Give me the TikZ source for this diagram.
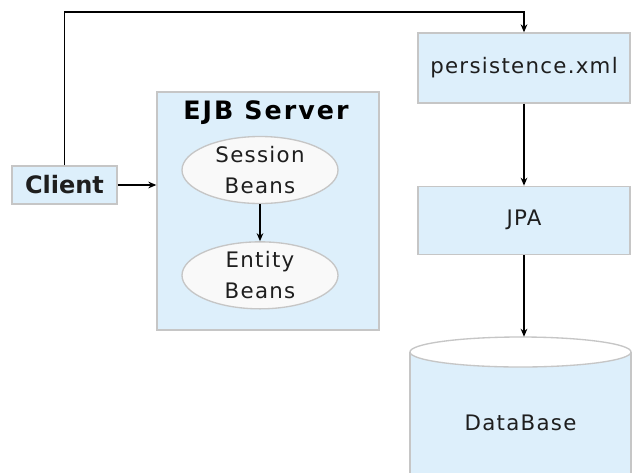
\documentclass[tikz,border=0pt]{standalone}
\usepackage{fontspec}
\setmainfont{DejaVu Sans}
\newfontfamily\pixfont[LetterSpace=6]{DejaVu Sans}
\newfontfamily\pixwide[LetterSpace=8]{DejaVu Sans}
\usetikzlibrary{shapes.geometric,arrows.meta,positioning}
\definecolor{boxblue}{RGB}{221,239,251}
\definecolor{boxline}{RGB}{198,198,198}
\definecolor{beanfill}{RGB}{249,249,249}
\definecolor{txt}{RGB}{30,30,30}

\begin{document}
\begin{tikzpicture}[x=0.75pt,y=-0.75pt,
  box/.style = {draw=boxline, fill=boxblue, line width=1pt, text=txt},
  lbl/.style = {text=txt, font=\pixfont\fontsize{16}{23}\selectfont},
  bean/.style = {ellipse, draw=boxline, fill=beanfill, line width=1pt, inner sep=0pt,
                 minimum width=117pt, minimum height=50.25pt, align=center, lbl},
  arr/.style = {-{Stealth[length=6pt,width=5pt]}, line width=1.1pt}]
  \clip (0,0) rectangle (632,472);
  \fill[white] (0,0) rectangle (632,472);
  % left side
  \node[box, minimum width=78.75pt, minimum height=28.5pt,
        font=\fontsize{18}{22}\selectfont\bfseries] (client) at (64.5,185) {Client};
  \node[box, minimum width=166.5pt, minimum height=178.5pt] (ejb) at (268,211) {};
  \node[text=black, font=\pixwide\bfseries\fontsize{19}{22}\selectfont] (title) at (266,113) {EJB Server};
  \node[bean] (session) at (260,170) {Session\\Beans};
  \node[bean] (entity) [below=27.75pt of session] {Entity\\Beans};
  % right side
  \node[box, minimum width=159pt, minimum height=52.5pt, lbl] (pers) at (524,68) {persistence.xml};
  \node[box, minimum width=159pt, minimum height=51pt, lbl] (jpa) [below=61.5pt of pers] {JPA};
  \fill[boxblue] (410,352) rectangle (631,480);
  \draw[boxline, line width=1pt] (410,352) -- (410,480);
  \draw[boxline, line width=1pt] (631,352) -- (631,480);
  \draw[boxline, line width=1pt, fill=white] (520.5,352) ellipse [x radius=82.9pt, y radius=11.25pt];
  \node[lbl, minimum width=166pt, minimum height=129pt] (db) at (520.5,423) {DataBase};
  % connectors
  \coordinate (bend) at (524,12);
  \draw[arr] (client.north) |- (bend) -- (pers.north);
  \draw[arr] (client.east) -- (client.east -| ejb.west);
  \draw[arr] (session) -- (entity);
  \draw[arr] (pers) -- (jpa);
  \draw[arr] (jpa) -- (jpa.south |- db.north);
\end{tikzpicture}
\end{document}
